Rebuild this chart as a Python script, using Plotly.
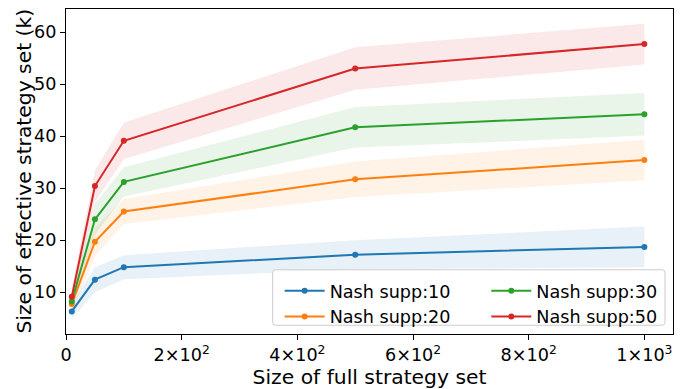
import plotly.graph_objects as go

x_sizes = [10, 50, 100, 500, 1000]

series_names = ["Nash supp:10", "Nash supp:20", "Nash supp:30", "Nash supp:50"]
means_10 = [6.3, 12.4, 14.8, 17.2, 18.7]
means_20 = [7.7, 19.7, 25.5, 31.7, 35.4]
means_30 = [8.2, 24.0, 31.2, 41.7, 44.2]
means_50 = [9.1, 30.4, 39.1, 53.0, 57.7]
std_10 = [1.4, 2.4, 2.3, 2.8, 3.9]
std_20 = [1.5, 2.8, 2.4, 3.4, 3.9]
std_30 = [1.6, 3.0, 2.8, 3.9, 4.1]
std_50 = [1.7, 3.0, 3.5, 4.1, 3.9]

x_tickvals = [0, 200, 400, 600, 800, 1000]
x_ticktext = ["0", "2×10<sup>2</sup>", "4×10<sup>2</sup>", "6×10<sup>2</sup>",
              "8×10<sup>2</sup>", "1×10<sup>3</sup>"]
y_tickvals = [10, 20, 30, 40, 50, 60]

colors = ["#1f77b4", "#ff7f0e", "#2ca02c", "#d62728"]
fills = ["rgba(31,119,180,0.1)", "rgba(255,127,14,0.1)",
         "rgba(44,160,44,0.1)", "rgba(214,39,40,0.1)"]
all_means = [means_10, means_20, means_30, means_50]
all_std = [std_10, std_20, std_30, std_50]
legend_ids = ["legend", "legend", "legend2", "legend2"]

fig = go.Figure()
for m, s, fc in zip(all_means, all_std, fills):
    upper = [a + b for a, b in zip(m, s)]
    lower = [a - b for a, b in zip(m, s)]
    fig.add_trace(go.Scatter(x=x_sizes, y=upper, mode="lines", line=dict(width=0),
                             showlegend=False, hoverinfo="skip"))
    fig.add_trace(go.Scatter(x=x_sizes, y=lower, mode="lines", line=dict(width=0),
                             fill="tonexty", fillcolor=fc, showlegend=False, hoverinfo="skip"))

for i in range(4):
    fig.add_trace(go.Scatter(x=x_sizes, y=all_means[i], mode="lines+markers",
                             name=series_names[i], legend=legend_ids[i],
                             legendgroup=f"g{i}",
                             line=dict(color=colors[i], width=2),
                             marker=dict(color=colors[i], size=6)))

# plot area in pixels: x 66..674, y 9..343
PL, PW, PT, PH = 66, 608, 9, 334
def px(v):
    return (v - PL) / PW
def py(v):
    return (PT + PH - v) / PH

# legend frame (rounded)
bx0, bx1, by0, by1 = px(273), px(666), py(334), py(277)
rx, ry = 3 / PW, 3 / PH
frame = (f"M{bx0+rx},{by0} L{bx1-rx},{by0} Q{bx1},{by0} {bx1},{by0+ry} "
         f"L{bx1},{by1-ry} Q{bx1},{by1} {bx1-rx},{by1} L{bx0+rx},{by1} "
         f"Q{bx0},{by1} {bx0},{by1-ry} L{bx0},{by0+ry} Q{bx0},{by0} {bx0+rx},{by0} Z")

font = "DejaVu Sans, sans-serif"
leg_common = dict(orientation="v", yanchor="top", xanchor="left", traceorder="normal",
                  bgcolor="rgba(0,0,0,0)", borderwidth=0,
                  font=dict(family=font, size=17.6), itemwidth=40, tracegroupgap=1.5)
fig.update_layout(
    width=680, height=389,
    margin=dict(l=66, r=6, t=9, b=46),
    paper_bgcolor="white", plot_bgcolor="white",
    font=dict(family=font, size=17.6, color="black"),
    showlegend=True,
    shapes=[dict(type="path", xref="paper", yref="paper", path=frame, layer="above",
                 fillcolor="rgba(255,255,255,0.8)", line=dict(color="#cccccc", width=1))],
    legend=dict(x=px(280), y=py(280), **leg_common),
    legend2=dict(x=px(487), y=py(280), **leg_common),
    annotations=[dict(text="Size of effective strategy set (k)", textangle=-90,
                      xref="paper", yref="paper", x=px(23.5), y=py(175.5),
                      xanchor="center", yanchor="middle", showarrow=False,
                      font=dict(size=20.3))],
    xaxis=dict(range=[0, 1049.5], tickvals=x_tickvals, ticktext=x_ticktext,
               showgrid=False, zeroline=False, showline=True, linecolor="black", linewidth=1,
               mirror=True, ticks="outside", ticklen=5, tickcolor="black",
               title=dict(text="Size of full strategy set", font=dict(size=20.3), standoff=4)),
    yaxis=dict(range=[1.95, 64.45], tickvals=y_tickvals,
               showgrid=False, zeroline=False, showline=True, linecolor="black", linewidth=1,
               mirror=True, ticks="outside", ticklen=5, tickcolor="black"),
)

fig.write_html("out.html")
